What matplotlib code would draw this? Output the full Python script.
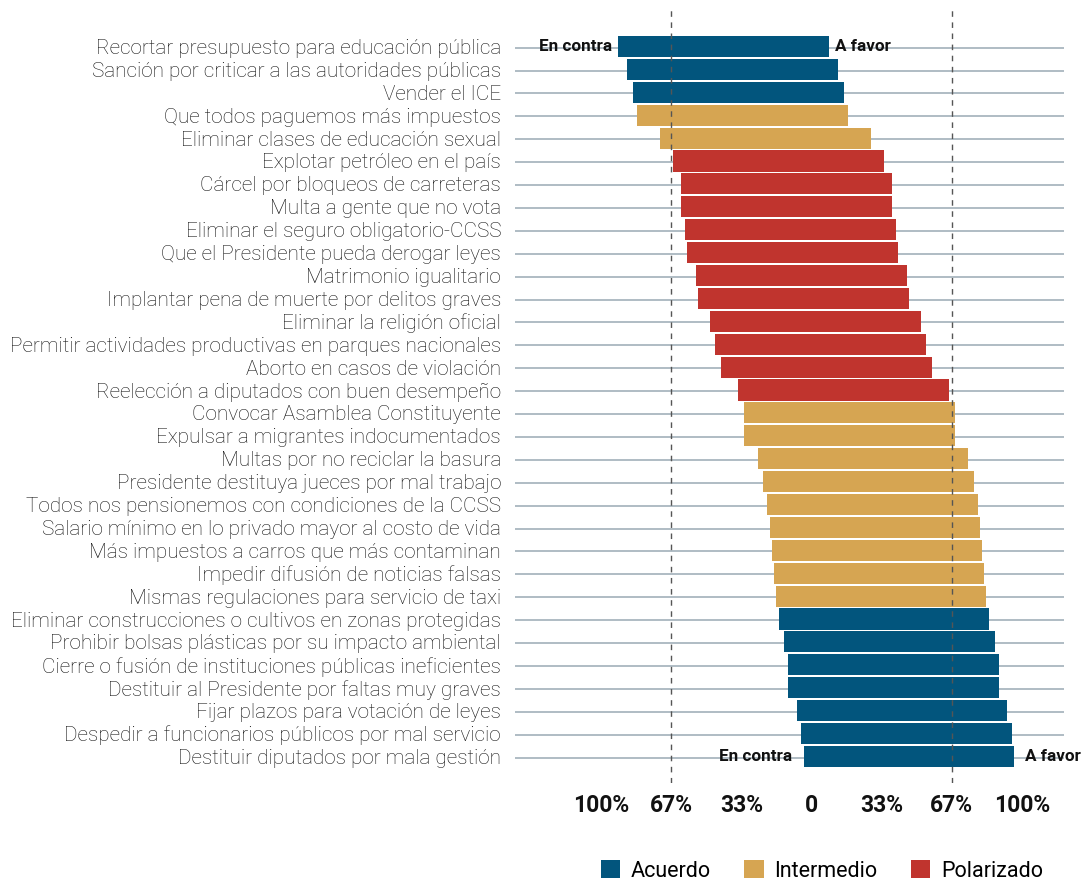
import matplotlib
matplotlib.use("Agg")
import matplotlib.pyplot as plt
from matplotlib.patches import Patch

items = [
    "Recortar presupuesto para educación pública",
    "Sanción por criticar a las autoridades públicas",
    "Vender el ICE",
    "Que todos paguemos más impuestos",
    "Eliminar clases de educación sexual",
    "Explotar petróleo en el país",
    "Cárcel por bloqueos de carreteras",
    "Multa a gente que no vota",
    "Eliminar el seguro obligatorio-CCSS",
    "Que el Presidente pueda derogar leyes",
    "Matrimonio igualitario",
    "Implantar pena de muerte por delitos graves",
    "Eliminar la religión oficial",
    "Permitir actividades productivas en parques nacionales",
    "Aborto en casos de violación",
    "Reelección a diputados con buen desempeño",
    "Convocar Asamblea Constituyente",
    "Expulsar a migrantes indocumentados",
    "Multas por no reciclar la basura",
    "Presidente destituya jueces por mal trabajo",
    "Todos nos pensionemos con condiciones de la CCSS",
    "Salario mínimo en lo privado mayor al costo de vida",
    "Más impuestos a carros que más contaminan",
    "Impedir difusión de noticias falsas",
    "Mismas regulaciones para servicio de taxi",
    "Eliminar construcciones o cultivos en zonas protegidas",
    "Prohibir bolsas plásticas por su impacto ambiental",
    "Cierre o fusión de instituciones públicas ineficientes",
    "Destituir al Presidente por faltas muy graves",
    "Fijar plazos para votación de leyes",
    "Despedir a funcionarios públicos por mal servicio",
    "Destituir diputados por mala gestión",
]

a_favor = [8.1, 12.4, 15.2, 17.1, 28.1, 34.3, 38.1, 38.1, 40.0, 41.0,
           45.2, 46.2, 51.9, 54.3, 57.1, 65.2, 68.1, 68.1, 74.3, 77.1,
           79.0, 80.0, 81.0, 81.9, 82.9, 84.3, 87.1, 89.0, 89.0, 92.9,
           95.2, 96.2]
en_contra = [100 - v for v in a_favor]

grupo = (["Acuerdo"] * 3 + ["Intermedio"] * 2 + ["Polarizado"] * 11 +
         ["Intermedio"] * 9 + ["Acuerdo"] * 7)

group_names = ["Acuerdo", "Intermedio", "Polarizado"]
group_colors = {"Acuerdo": "#02557d", "Intermedio": "#d6a552", "Polarizado": "#c0342e"}

tick_vals = [-100, -66.7, -33.3, 0, 33.3, 66.7, 100]
tick_labels = ["100%", "67%", "33%", "0", "33%", "67%", "100%"]
ref_lines = [-66.7, 66.7]

W, H = 1083, 883
fig = plt.figure(figsize=(W / 100, H / 100), dpi=100)
ax = fig.add_axes([515 / W, 1 - 783 / H, (1064 - 515) / W, (783 - 8) / H])

font_light = dict(family="Roboto", weight="light")

ypos = list(range(len(items)))
colors = [group_colors[g] for g in grupo]
ax.barh(ypos, a_favor, left=0, height=0.92, color=colors, zorder=3, linewidth=0)
ax.barh(ypos, [-c for c in en_contra], left=0, height=0.92, color=colors, zorder=3, linewidth=0)

for y in ypos:
    ax.axhline(y + 0.05, color="#a9b6bf", lw=1.3, zorder=1)
for xv in ref_lines:
    ax.axvline(xv, color="#555555", lw=1.0, dashes=(4, 4), zorder=4)

ax.set_xlim(-141, 120)
ax.set_ylim(len(items) - 1 + 1.16, -1.68)

ax.set_yticks(ypos)
ax.set_yticklabels(items, fontsize=14.95, **font_light, color="#111111")
ax.tick_params(axis="y", length=0, pad=10)

ax.set_xticks(tick_vals)
ax.set_xticklabels(tick_labels, fontsize=16.5, family="Roboto", weight="bold", color="#111111")
ax.tick_params(axis="x", length=0, pad=8)

for s in ax.spines.values():
    s.set_visible(False)

lab_kw = dict(fontsize=12.3, family="Roboto", weight="bold", color="#111111", va="center", zorder=5)
for idx, off in [(0, 4.5), (len(items) - 1, 8)]:
    ax.annotate("En contra", xy=(-en_contra[idx], idx), xytext=(-off, 0),
                textcoords="offset points", ha="right", **lab_kw)
    ax.annotate("A favor", xy=(a_favor[idx], idx), xytext=(off, 0),
                textcoords="offset points", ha="left", **lab_kw)

handles = [Patch(facecolor=group_colors[g], edgecolor="none", label=g) for g in group_names]
fig.legend(handles=handles, loc="center", bbox_to_anchor=(822 / W, 1 - 871 / H), ncol=3,
           frameon=False, prop=dict(family="Roboto", size=15.5), handlelength=0.9,
           handleheight=0.9, handletextpad=0.5, columnspacing=1.55, borderpad=0)

fig.savefig("out.png", dpi=100)
